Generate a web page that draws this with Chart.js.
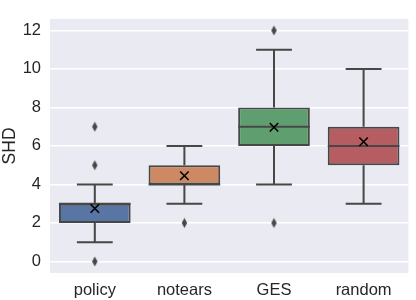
<!DOCTYPE html>
<html lang="en">
<head>
  <meta charset="UTF-8">
  <title>SHD boxplot</title>
  <script src="https://cdn.jsdelivr.net/npm/chart.js"></script>
  <style>
    html, body { margin: 0; padding: 0; background: #ffffff; }
    #wrap { width: 416px; height: 300px; }
  </style>
</head>
<body>
  <div id="wrap"><canvas id="boxChart" width="416" height="300"></canvas></div>

  <script>
    // box plot pieces
    const categories = ['policy', 'notears', 'GES', 'random'];
    const q1 = [2, 4, 6, 5];
    const q3 = [3, 5, 8, 7];
    const medians = [3, 4, 7, 6];
    const whiskerLow = [1, 3, 4, 3];
    const whiskerHigh = [4, 6, 11, 10];
    const means = [2.75, 4.45, 6.97, 6.22];
    const outlierCats = ['policy', 'policy', 'policy', 'notears', 'GES', 'GES'];
    const outlierVals = [0, 5, 7, 2, 2, 12];
    const yTicks = [0, 2, 4, 6, 8, 10, 12];

    const boxColors = ['#5975a4', '#cc8963', '#5f9e6e', '#b55d60'];
    const edgeGray = '#474747';
    const textColor = '#262626';
    const font = { family: 'Liberation Sans, Arial, sans-serif', size: 16.5 };

    // thin diamond marker like matplotlib 'd'
    const diamond = document.createElement('canvas');
    diamond.width = 7; diamond.height = 11;
    (function () {
      const c = diamond.getContext('2d');
      c.fillStyle = edgeGray;
      c.beginPath();
      c.moveTo(3.5, 0.5); c.lineTo(6.2, 5.5); c.lineTo(3.5, 10.5); c.lineTo(0.8, 5.5);
      c.closePath(); c.fill();
    })();

    const boxParts = {
      id: 'boxParts',
      beforeDraw(chart) {
        const a = chart.chartArea, ctx = chart.ctx;
        ctx.save();
        ctx.fillStyle = '#eaeaf2';
        ctx.fillRect(a.left, a.top, a.right - a.left, a.bottom - a.top);
        ctx.restore();
      },
      beforeDatasetsDraw(chart) {
        const ctx = chart.ctx, x = chart.scales.x, y = chart.scales.y;
        const meta = chart.getDatasetMeta(0);
        ctx.save();
        ctx.strokeStyle = edgeGray;
        ctx.lineWidth = 2;
        categories.forEach((c, i) => {
          const cx = x.getPixelForValue(i);
          const half = meta.data[i].width / 4;
          ctx.beginPath();
          ctx.moveTo(cx, y.getPixelForValue(whiskerLow[i]));
          ctx.lineTo(cx, y.getPixelForValue(q1[i]));
          ctx.moveTo(cx, y.getPixelForValue(q3[i]));
          ctx.lineTo(cx, y.getPixelForValue(whiskerHigh[i]));
          ctx.moveTo(cx - half, y.getPixelForValue(whiskerLow[i]));
          ctx.lineTo(cx + half, y.getPixelForValue(whiskerLow[i]));
          ctx.moveTo(cx - half, y.getPixelForValue(whiskerHigh[i]));
          ctx.lineTo(cx + half, y.getPixelForValue(whiskerHigh[i]));
          ctx.stroke();
        });
        ctx.restore();
      },
      afterDatasetDraw(chart, args) {
        if (args.index !== 0) return;
        const ctx = chart.ctx, x = chart.scales.x, y = chart.scales.y;
        const meta = chart.getDatasetMeta(0);
        ctx.save();
        ctx.strokeStyle = edgeGray;
        ctx.lineWidth = 2;
        categories.forEach((c, i) => {
          const cx = x.getPixelForValue(i);
          const half = meta.data[i].width / 2;
          const my = y.getPixelForValue(medians[i]);
          ctx.beginPath();
          ctx.moveTo(cx - half, my);
          ctx.lineTo(cx + half, my);
          ctx.stroke();
        });
        ctx.restore();
      }
    };

    new Chart(document.getElementById('boxChart'), {
      type: 'bar',
      data: {
        labels: categories,
        datasets: [
          {
            label: 'IQR',
            data: categories.map((c, i) => [q1[i], q3[i]]),
            backgroundColor: boxColors,
            borderColor: edgeGray,
            borderWidth: 2,
            borderSkipped: false,
            barPercentage: 0.8,
            categoryPercentage: 1,
            grouped: false,
            order: 2
          },
          {
            type: 'line',
            label: 'outliers',
            data: outlierCats.map((c, i) => ({ x: c, y: outlierVals[i] })),
            showLine: false,
            pointStyle: diamond,
            pointRadius: 5,
            order: 1
          },
          {
            type: 'line',
            label: 'mean',
            data: categories.map((c, i) => ({ x: c, y: means[i] })),
            showLine: false,
            pointStyle: 'crossRot',
            pointRadius: 6,
            borderColor: '#000000',
            pointBorderColor: '#000000',
            pointBorderWidth: 1.6,
            order: 0
          }
        ]
      },
      options: {
        responsive: false,
        animation: false,
        layout: { padding: { top: 2, right: 1, left: 0, bottom: 0 } },
        plugins: {
          legend: { display: false },
          tooltip: { enabled: false }
        },
        scales: {
          x: {
            grid: { display: false, drawTicks: false },
            border: { display: false },
            ticks: { color: textColor, font: font, padding: 8 },
            afterFit(scale) { scale.height = 27; }
          },
          y: {
            min: -0.6,
            max: 12.6,
            afterBuildTicks(scale) { scale.ticks = yTicks.map(v => ({ value: v })); },
            grid: { color: '#ffffff', lineWidth: 1.5, drawTicks: false },
            border: { display: false },
            ticks: { color: textColor, font: font, padding: 9 },
            title: { display: true, text: 'SHD', color: textColor, font: { family: font.family, size: 17.5 }, padding: { top: 0, bottom: 2 } },
            afterFit(scale) { scale.width = 50; }
          }
        }
      },
      plugins: [boxParts]
    });
  </script>
</body>
</html>
